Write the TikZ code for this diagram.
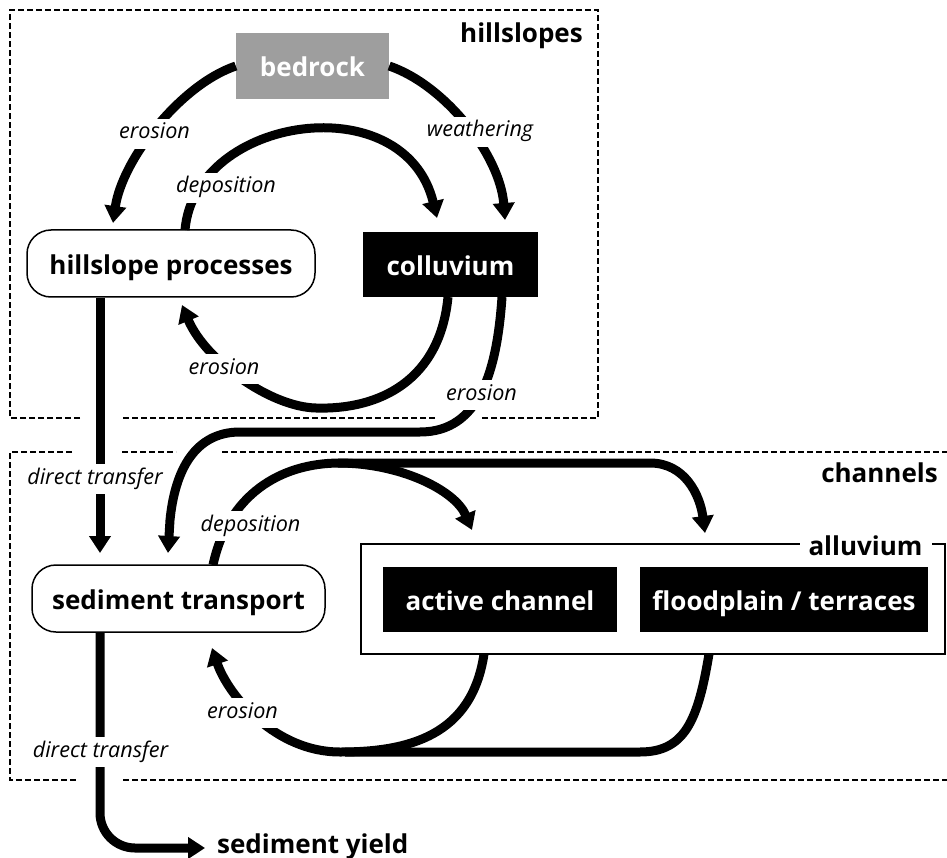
\documentclass[tikz,border=0pt]{standalone}
\usepackage{fontspec}
\setmainfont{Open Sans}
\usetikzlibrary{arrows.meta}
\definecolor{rockgray}{RGB}{158,158,158}
\begin{document}
\begin{tikzpicture}[x=1pt,y=-1pt,
  flow/.style={line width=9pt, -{Triangle[width=21pt,length=17pt]}},
  flowline/.style={line width=9pt},
  lbl/.style={font=\fontsize{21.6}{24}\selectfont\itshape, fill=white, inner xsep=3pt, inner ysep=5pt, text height=15pt, text depth=5pt},
  boxtext/.style={font=\fontsize{26}{30}\selectfont\bfseries, inner sep=0pt, text height=22pt, text depth=0pt},
  blackbox/.style={boxtext, fill=black, text=white},
  roundbox/.style={boxtext, draw, line width=1.5pt, rounded corners=24pt},
  region/.style={dash pattern=on 6pt off 3pt, line width=1.2pt},
  heading/.style={font=\fontsize{26}{30}\selectfont\bfseries, inner sep=0pt}
]
\useasboundingbox (0,0) rectangle (947,858);

% ---- boxes
\node[boxtext, fill=rockgray, text=white, minimum width=153pt, minimum height=66pt] (bedrock) at (312.5,66) {bedrock};
\node[roundbox, minimum width=288pt, minimum height=67pt] (hp) at (171,263.5) {hillslope processes};
\node[blackbox, minimum width=175pt, minimum height=65pt] (coll) at (450.5,264.5) {colluvium};
\node[roundbox, minimum width=293pt, minimum height=67pt] (st) at (178.5,598.5) {sediment transport};
\node[draw, line width=1.3pt, minimum width=584pt, minimum height=110pt, inner sep=0pt] (alluv) at (653,599) {};
\node[blackbox, minimum width=234pt, minimum height=65pt] (ac) at (500,599.5) {active channel};
\node[blackbox, minimum width=288pt, minimum height=65pt] (fp) at (784,599.5) {floodplain / terraces};

% ---- headings
\node[heading, anchor=base east] (hlab) at (583,43) {hillslopes};
\node[heading, anchor=base east] (clab) at (938,482) {channels};
\node[heading, fill=white, inner xsep=9pt, inner ysep=0pt, text height=22pt, text depth=6pt] (alab) at (865.5,547) {alluvium};
\node[heading, anchor=base west] (yield) at (217,853) {sediment yield};

% ---- connector end points
\coordinate (dtx) at (100,0);
\coordinate (e1t) at (113,223);
\coordinate (wt) at (505,220);
\coordinate (d1s) at (185,230);
\coordinate (d1t) at (437,218);
\coordinate (e2s) at (448,297);
\coordinate (e2t) at (182,305);
\coordinate (e3s) at (502,297);
\coordinate (e3t) at (168,553);
\coordinate (dt1t) at (100,553);
\coordinate (ytip) at (205,848);
\coordinate (d2s) at (213,565);
\coordinate (d2a) at (472,530);
\coordinate (d2b) at (705,533);
\coordinate (e4s) at (484,654);
\coordinate (e4t) at (212,648);
\coordinate (e4f) at (709,654);

% ---- hillslope connectors
\draw[flow] (bedrock.west) .. controls (180,85) and (122,160) .. (e1t);
\draw[flow] (bedrock.east) .. controls (445,85) and (500,155) .. (wt);
\draw[flow] (d1s) .. controls (195,115) and (405,85) .. (d1t);
\draw[flow] (e2s) .. controls (440,380) and (380,410) .. (316,408)
                  .. controls (270,407) and (205,360) .. (e2t);
\draw[flow] (e3s) .. controls (497,370) and (480,432) .. (420,432) -- (240,432)
                  .. controls (195,432) and (175,470) .. (170,520) -- (e3t);
\draw[flow] (hp.south -| dtx) -- (dt1t);

% ---- channel connectors
\draw[flow] (d2s) .. controls (228,495) and (280,463) .. (340,463) -- (650,463)
                  .. controls (685,463) and (700,495) .. (d2b);
\draw[flow] (338,463) .. controls (400,463) and (455,490) .. (d2a);
\draw[flow] (e4s) .. controls (472,735) and (410,752) .. (340,752)
                  .. controls (275,752) and (228,695) .. (e4t);
\draw[flowline] (e4f) .. controls (698,720) and (685,752) .. (640,752) -- (345,752);
\draw[flow, rounded corners=35pt] (st.south -| dtx) -- (100,848) -- (ytip);

% ---- dashed regions
\draw[region] (80,418) -- (10,418) -- (10,10) -- (598,10) -- (598,418) -- (480,418);
\draw[region] (123,418) -- (435,418);
\draw[region] (72,452) -- (10,452) -- (10,780) -- (78,780);
\draw[region] (123,780) -- (955,780);
\draw[region] (122,452) -- (176,452);
\draw[region] (222,452) -- (955,452);

% ---- process labels
\node[lbl] (l1) at (154.5,134) {erosion};
\node[lbl] (l2) at (480,132) {weathering};
\node[lbl] (l3) at (226,188) {deposition};
\node[lbl] (l4) at (224,369) {erosion};
\node[lbl] (l5) at (481.5,395) {erosion};
\node[lbl] (l6) at (95,479) {direct transfer};
\node[lbl] (l7) at (250.5,526) {deposition};
\node[lbl] (l8) at (242.5,713) {erosion};
\node[lbl] (l9) at (100.5,752) {direct transfer};
\end{tikzpicture}
\end{document}
